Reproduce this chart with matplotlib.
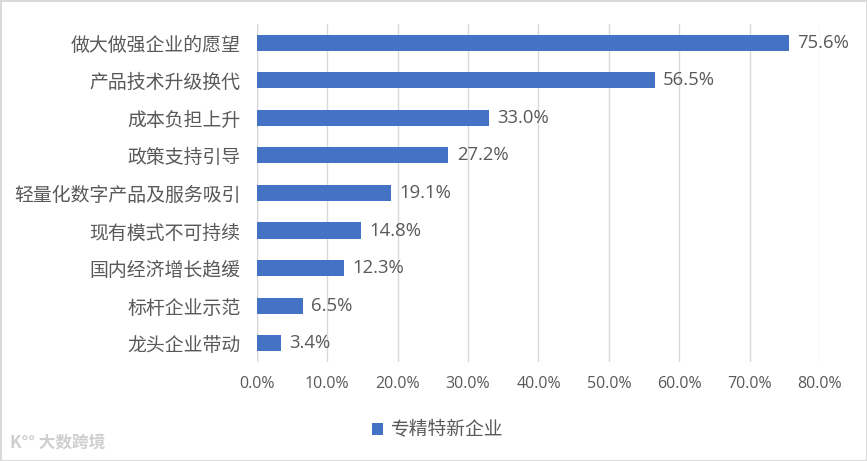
import matplotlib.pyplot as plt
from matplotlib.ticker import FuncFormatter

plt.rcParams['font.family'] = ['Noto Sans CJK SC', 'DejaVu Sans']

categories = ["做大做强企业的愿望", "产品技术升级换代", "成本负担上升", "政策支持引导",
              "轻量化数字产品及服务吸引", "现有模式不可持续", "国内经济增长趋缓",
              "标杆企业示范", "龙头企业带动"]
values = [75.6, 56.5, 33.0, 27.2, 19.1, 14.8, 12.3, 6.5, 3.4]
series_name = "专精特新企业"

bar_color = "#4472C4"
text_color = "#595959"
num_font = ["Open Sans", "DejaVu Sans"]

fig = plt.figure(figsize=(8.67, 4.61), dpi=100)
fig.patch.set_edgecolor("#d9d9d9")
fig.patch.set_linewidth(2)
ax = fig.add_axes([0.2964, 0.2148, 0.6494, 0.7332])

pos = list(range(len(categories)))[::-1]
bars = ax.barh(pos, values, height=0.43, color=bar_color, label=series_name, zorder=3)
for p, v in zip(pos, values):
    ax.text(v + 1.2, p, f"{v:.1f}%", va="center", ha="left", fontsize=13.3,
            color=text_color, family=num_font)

ax.set_xlim(0, 80)
ax.set_ylim(-0.5, len(categories) - 0.5)
ax.set_xticks(range(0, 81, 10))
ax.xaxis.set_major_formatter(FuncFormatter(lambda x, _: f"{x:.1f}%"))
ax.set_yticks(pos)
ax.set_yticklabels(categories, fontsize=13.6, fontweight="light")
for t in ax.get_xticklabels():
    t.set_family(num_font)
    t.set_fontsize(11.5)
ax.tick_params(axis="both", length=0, colors=text_color)
ax.tick_params(axis="x", pad=10)
ax.tick_params(axis="y", pad=12)
ax.grid(axis="x", color="#d9d9d9", linewidth=1, zorder=0)
for s in ax.spines.values():
    s.set_visible(False)
ax.axvline(0, color="#d9d9d9", linewidth=1, zorder=1)

leg = fig.legend(handles=[bars], labels=[series_name], loc="center", bbox_to_anchor=(0.505, 0.067),
                 frameon=False, handlelength=0.6, handleheight=0.6, handletextpad=0.4,
                 prop={"size": 13.5, "weight": "light"})
for t in leg.get_texts():
    t.set_color(text_color)

fig.text(0.012, 0.04, "K°° 大数跨境", fontsize=12, color="#cfcfcf", fontweight="bold", va="center")

fig.savefig("out.png", dpi=100)
